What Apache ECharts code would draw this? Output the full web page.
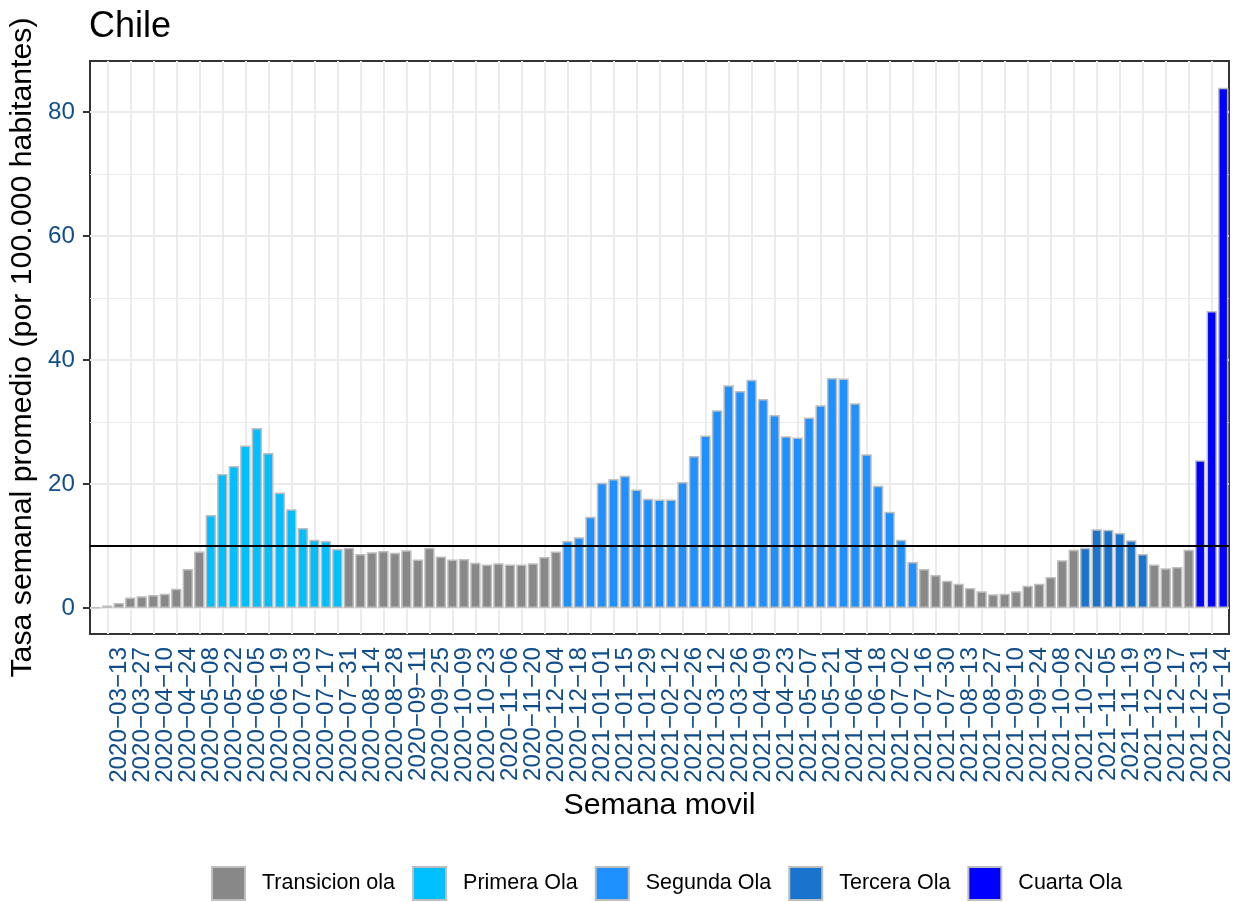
<!DOCTYPE html>
<html>
<head>
<meta charset="utf-8">
<script src="https://cdn.jsdelivr.net/npm/echarts@6/dist/echarts.min.js"></script>
<style>
  html, body { margin: 0; padding: 0; background: #fff; }
  #chart { width: 1235px; height: 902px; }
</style>
</head>
<body>
<div id="chart"></div>
<script>
// semanas (fecha de cierre de la semana movil)
const weeks = [
  "2020-03-06", "2020-03-13", "2020-03-20", "2020-03-27", "2020-04-03", "2020-04-10", "2020-04-17", "2020-04-24",
  "2020-05-01", "2020-05-08", "2020-05-15", "2020-05-22", "2020-05-29", "2020-06-05", "2020-06-12", "2020-06-19",
  "2020-06-26", "2020-07-03", "2020-07-10", "2020-07-17", "2020-07-24", "2020-07-31", "2020-08-07", "2020-08-14",
  "2020-08-21", "2020-08-28", "2020-09-04", "2020-09-11", "2020-09-18", "2020-09-25", "2020-10-02", "2020-10-09",
  "2020-10-16", "2020-10-23", "2020-10-30", "2020-11-06", "2020-11-13", "2020-11-20", "2020-11-27", "2020-12-04",
  "2020-12-11", "2020-12-18", "2020-12-25", "2021-01-01", "2021-01-08", "2021-01-15", "2021-01-22", "2021-01-29",
  "2021-02-05", "2021-02-12", "2021-02-19", "2021-02-26", "2021-03-05", "2021-03-12", "2021-03-19", "2021-03-26",
  "2021-04-02", "2021-04-09", "2021-04-16", "2021-04-23", "2021-04-30", "2021-05-07", "2021-05-14", "2021-05-21",
  "2021-05-28", "2021-06-04", "2021-06-11", "2021-06-18", "2021-06-25", "2021-07-02", "2021-07-09", "2021-07-16",
  "2021-07-23", "2021-07-30", "2021-08-06", "2021-08-13", "2021-08-20", "2021-08-27", "2021-09-03", "2021-09-10",
  "2021-09-17", "2021-09-24", "2021-10-01", "2021-10-08", "2021-10-15", "2021-10-22", "2021-10-29", "2021-11-05",
  "2021-11-12", "2021-11-19", "2021-11-26", "2021-12-03", "2021-12-10", "2021-12-17", "2021-12-24", "2021-12-31",
  "2022-01-07", "2022-01-14", "2022-01-21"
];

// tasa semanal promedio por 100.000 hab.
const rates = [
  0.1, 0.4, 0.8, 1.7, 1.9, 2.1, 2.3, 3.1, 6.3, 9.1,
  15.0, 21.6, 22.9, 26.2, 29.0, 25.0, 18.6, 15.9, 12.9, 11.0,
  10.8, 9.5, 9.7, 8.7, 9.0, 9.2, 8.9, 9.3, 7.8, 9.7,
  8.3, 7.8, 7.9, 7.3, 7.0, 7.2, 7.0, 7.0, 7.2, 8.2,
  9.1, 10.8, 11.4, 14.7, 20.2, 20.8, 21.3, 19.1, 17.6, 17.5,
  17.5, 20.3, 24.5, 27.8, 31.9, 35.9, 35.0, 36.8, 33.7, 31.1,
  27.7, 27.5, 30.7, 32.7, 37.1, 37.0, 33.0, 24.8, 19.7, 15.5,
  11.0, 7.4, 6.3, 5.3, 4.4, 3.9, 3.2, 2.7, 2.2, 2.3,
  2.7, 3.6, 3.9, 5.0, 7.7, 9.4, 9.7, 12.7, 12.6, 12.1,
  10.9, 8.7, 7.0, 6.4, 6.6, 9.4, 23.8, 47.9, 83.9
];

// ola de cada semana (indice en waveNames)
const waves = [
  0, 0, 0, 0, 0, 0, 0, 0, 0, 0,
  1, 1, 1, 1, 1, 1, 1, 1, 1, 1,
  1, 1, 0, 0, 0, 0, 0, 0, 0, 0,
  0, 0, 0, 0, 0, 0, 0, 0, 0, 0,
  0, 2, 2, 2, 2, 2, 2, 2, 2, 2,
  2, 2, 2, 2, 2, 2, 2, 2, 2, 2,
  2, 2, 2, 2, 2, 2, 2, 2, 2, 2,
  2, 2, 0, 0, 0, 0, 0, 0, 0, 0,
  0, 0, 0, 0, 0, 0, 3, 3, 3, 3,
  3, 3, 0, 0, 0, 0, 4, 4, 4
];

const waveNames = ["Transicion ola", "Primera Ola", "Segunda Ola", "Tercera Ola", "Cuarta Ola"];
const waveColors = ["#888888", "#00BFFF", "#1E90FF", "#1874CD", "#0000FF"];

const yTicks = [0, 20, 40, 60, 80];
const yMinor = [10, 30, 50, 70];
const threshold = 10;

const FONT = "Liberation Sans, Arial, Helvetica, sans-serif";
const AXIS_COLOR = "#104E8B";

// una etiqueta cada dos semanas
const everyOther = (idx) => idx % 2 === 1;

const gridLines = [];
yTicks.forEach(v => gridLines.push({ yAxis: v, lineStyle: { color: "#EBEBEB", width: 2, type: "solid" } }));
yMinor.forEach(v => gridLines.push({ yAxis: v, lineStyle: { color: "#EBEBEB", width: 1.2, type: "solid" } }));
weeks.forEach((w, i) => {
  if (everyOther(i)) gridLines.push({ xAxis: i, lineStyle: { color: "#EBEBEB", width: 2, type: "solid" } });
});

const waveSeries = waveNames.map((name, k) => ({
  name: name,
  type: "bar",
  stack: "ola",
  barWidth: "90%",
  z: 3,
  itemStyle: { color: waveColors[k], borderColor: "#BEBEBE", borderWidth: 1.5 },
  data: rates.map((v, i) => (waves[i] === k ? v : "-"))
}));

const chart = echarts.init(document.getElementById("chart"));
chart.setOption({
  animation: false,
  backgroundColor: "#ffffff",
  textStyle: { fontFamily: FONT },
  title: {
    text: "Chile",
    left: 89,
    top: 9,
    padding: 0,
    textStyle: { fontSize: 36, fontWeight: "normal", color: "#000000", fontFamily: FONT }
  },
  legend: {
    data: waveNames,
    left: 211,
    top: 866,
    padding: 0,
    icon: "rect",
    itemWidth: 33,
    itemHeight: 33,
    itemGap: 17,
    itemStyle: { borderColor: "#BEBEBE", borderWidth: 2 },
    textStyle: { fontSize: 21.5, color: "#000000", fontFamily: FONT, padding: [0, 0, 0, 12] }
  },
  grid: {
    left: 90,
    right: 6,
    top: 61,
    bottom: 268,
    show: true,
    backgroundColor: "#ffffff",
    borderColor: "#333333",
    borderWidth: 2,
    containLabel: false,
    outerBoundsMode: "none"
  },
  xAxis: {
    type: "category",
    data: weeks,
    boundaryGap: true,
    axisLine: { show: false },
    axisTick: {
      show: true,
      alignWithLabel: true,
      interval: everyOther,
      length: 7,
      lineStyle: { color: "#333333", width: 2 }
    },
    axisLabel: {
      interval: 0,
      hideOverlap: false,
      rotate: 90,
      margin: 13,
      fontSize: 24.2,
      color: AXIS_COLOR,
      fontFamily: FONT,
      verticalAlign: "top",
      formatter: (v, i) => (everyOther(i) ? v.replace(/-/g, "\u2212") : "")
    },
    splitLine: { show: false },
    name: "Semana movil",
    nameLocation: "middle",
    nameGap: 151,
    nameTextStyle: { fontSize: 30.3, color: "#000000", fontFamily: FONT }
  },
  yAxis: {
    type: "value",
    min: -4.2,
    max: 88.2,
    axisLine: { show: false },
    splitLine: { show: false },
    axisTick: {
      show: true,
      customValues: yTicks,
      length: 7,
      lineStyle: { color: "#333333", width: 2 }
    },
    axisLabel: {
      customValues: yTicks,
      margin: 15,
      fontSize: 24.2,
      color: AXIS_COLOR,
      fontFamily: FONT
    },
    name: "Tasa semanal promedio (por 100.000 habitantes)",
    nameLocation: "middle",
    nameRotate: 90,
    nameGap: 51,
    nameTextStyle: { fontSize: 30.3, color: "#000000", fontFamily: FONT }
  },
  series: [
    {
      name: "_grid",
      type: "line",
      data: [],
      z: 1,
      silent: true,
      markLine: {
        z: 1,
        silent: true,
        animation: false,
        symbol: ["none", "none"],
        label: { show: false },
        emphasis: { disabled: true },
        data: gridLines
      }
    },
    ...waveSeries,
    {
      name: "_umbral",
      type: "line",
      data: [],
      z: 5,
      silent: true,
      markLine: {
        z: 6,
        silent: true,
        animation: false,
        symbol: ["none", "none"],
        label: { show: false },
        emphasis: { disabled: true },
        data: [{ yAxis: threshold, lineStyle: { color: "#000000", width: 2, type: "solid" } }]
      }
    }
  ]
});
</script>
</body>
</html>
